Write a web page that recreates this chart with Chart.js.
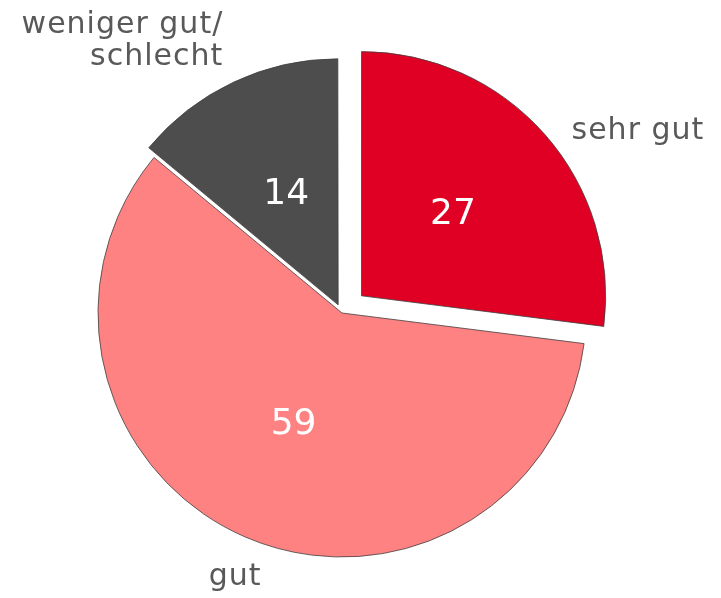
<!DOCTYPE html>
<html>
<head>
<meta charset="utf-8">
<script src="https://cdn.jsdelivr.net/npm/chart.js@4"></script>
<style>
  body { margin: 0; background: #fff; }
  #wrap { width: 721px; height: 598px; }
</style>
</head>
<body>
<div id="wrap"><canvas id="myChart" width="721" height="598"></canvas></div>
<script>
// data (percent)
var categories = ["sehr gut", "gut", "weniger gut/\nschlecht"];
var values = [27, 59, 14];
var colors = ['#DF0024', '#FF8282', '#4D4D4D'];
// chart.js v4 moves an arc by offset / 4
var explode = [104, 0, 36];

// small hand tweaks of where the category text sits (px)
var labelNudge = [[-3, 23], [6, 4], [6, -7]];

// draws the value inside each slice and the category outside
var sliceLabels = {
    id: 'sliceLabels',
    afterDatasetsDraw: function (chart) {
        var ctx = chart.ctx;
        var arcs = chart.getDatasetMeta(0).data;
        ctx.save();
        arcs.forEach(function (arc, i) {
            var p = arc.getProps(['x', 'y', 'startAngle', 'endAngle', 'outerRadius'], true);
            var off = (arc.options.offset || 0) / 4;
            var mid = (p.startAngle + p.endAngle) / 2;
            var dx = Math.cos(mid), dy = Math.sin(mid);
            var cx = p.x + dx * off, cy = p.y + dy * off;

            // value
            ctx.fillStyle = '#fff';
            ctx.font = '36px "DejaVu Sans"';
            ctx.letterSpacing = '0px';
            ctx.textAlign = 'center';
            ctx.textBaseline = 'middle';
            ctx.fillText(values[i], cx + dx * p.outerRadius * 0.5, cy + dy * p.outerRadius * 0.5);

            // category
            var ex = cx + dx * (p.outerRadius + 40) + labelNudge[i][0];
            var ey = cy + dy * (p.outerRadius + 40) + labelNudge[i][1];
            ctx.fillStyle = '#595959';
            ctx.font = '30px "DejaVu Sans"';
            ctx.letterSpacing = '1px';
            if (dy > 0.85) ctx.textAlign = 'center';
            else ctx.textAlign = dx > 0 ? 'left' : 'right';
            var lines = categories[i].split('\n');
            var lh = 32;
            var y0 = ey - (lines.length - 1) * lh / 2;
            lines.forEach(function (ln, k) {
                ctx.fillText(ln, ex, y0 + k * lh);
            });
        });
        ctx.restore();
    }
};

var ctx = document.getElementById('myChart').getContext('2d');
var chart = new Chart(ctx, {
    type: 'pie',
    data: {
        labels: categories,
        datasets: [{
            data: values,
            backgroundColor: colors,
            borderColor: '#404040',
            borderWidth: 0.8,
            offset: explode
        }]
    },
    options: {
        responsive: false,
        animation: false,
        radius: 244,
        layout: { padding: { left: 0, right: 37, top: 28, bottom: 0 } },
        plugins: {
            legend: { display: false },
            tooltip: { enabled: false }
        }
    },
    plugins: [sliceLabels]
});
</script>
</body>
</html>
